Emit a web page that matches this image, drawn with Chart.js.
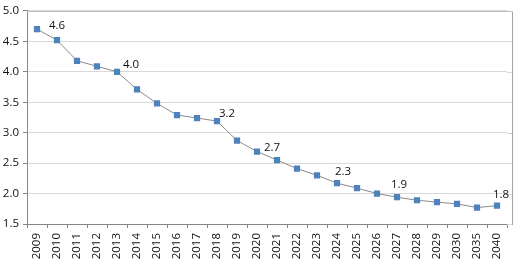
<!DOCTYPE html>
<html>
<head>
<meta charset="utf-8">
<script src="https://cdn.jsdelivr.net/npm/chart.js@4/dist/chart.umd.min.js"></script>
<style>
html,body{margin:0;padding:0;background:#fff;}
#wrap{width:516px;height:263px;}
</style>
</head>
<body>
<div id="wrap"><canvas id="c" width="516" height="263"></canvas></div>
<script>
const categories = ['2009','2010','2011','2012','2013','2014','2015','2016','2017','2018','2019','2020','2021','2022','2023','2024','2025','2026','2027','2028','2029','2030','2035','2040'];
const values = [4.70,4.52,4.18,4.09,4.00,3.71,3.48,3.29,3.24,3.19,2.87,2.69,2.55,2.41,2.30,2.17,2.09,2.00,1.94,1.89,1.86,1.83,1.77,1.80];
const pointLabels = [null,'4.6',null,null,'4.0',null,null,null,null,'3.2',null,'2.7',null,null,null,'2.3',null,null,'1.9',null,null,null,null,'1.8'];
const yMin = 1.5, yMax = 5.0, yStep = 0.5;

const FONT = '"Open Sans", "DejaVu Sans", sans-serif';

const labelOffsets = {1:[0,-14],4:[14,-7],9:[10,-7],11:[15,-4],15:[6,-11],18:[2,-12],23:[4,-11]};

const labelPlugin = {
  id: 'pointLabels',
  afterDatasetsDraw(chart) {
    const ctx = chart.ctx;
    const meta = chart.getDatasetMeta(0);
    ctx.save();
    ctx.font = '11.5px ' + FONT;
    ctx.fillStyle = '#111';
    ctx.textAlign = 'center';
    ctx.textBaseline = 'middle';
    pointLabels.forEach((t, i) => {
      if (!t) return;
      const el = meta.data[i];
      const off = labelOffsets[i] || [0, -12];
      ctx.fillText(t, el.x + off[0], el.y + off[1]);
    });
    ctx.restore();
  }
};

const framePlugin = {
  id: 'frame',
  beforeDatasetsDraw(chart) {
    const {ctx, chartArea} = chart;
    const ys = chart.scales.y;
    const ext = 5;
    ctx.save();
    ctx.lineWidth = 1;
    ctx.strokeStyle = '#d9d9d9';
    ys.ticks.forEach(t => {
      const y = Math.round(ys.getPixelForValue(t.value)) + 0.5;
      ctx.beginPath();
      ctx.moveTo(chartArea.right, y);
      ctx.lineTo(chartArea.right + ext, y);
      ctx.stroke();
    });
    const top = Math.round(ys.getPixelForValue(yMax)) + 0.5;
    ctx.strokeStyle = '#bdbdbd';
    ctx.beginPath();
    ctx.moveTo(chartArea.left, top);
    ctx.lineTo(chartArea.right + ext, top);
    ctx.stroke();
    ctx.strokeStyle = '#a6a6a6';
    const x = Math.round(chartArea.right + ext) + 0.5;
    ctx.beginPath();
    ctx.moveTo(x, top);
    ctx.lineTo(x, chartArea.bottom + 1);
    ctx.stroke();
    ctx.restore();
  }
};

new Chart(document.getElementById('c'), {
  type: 'line',
  data: {
    labels: categories,
    datasets: [{
      data: values,
      borderColor: '#8a8a8a',
      borderWidth: 1,
      backgroundColor: '#4f81bd',
      pointStyle: 'rect',
      pointRadius: 4.4,
      pointBorderWidth: 0,
      pointBackgroundColor: '#4f81bd',
      tension: 0,
      fill: false
    }]
  },
  options: {
    responsive: false,
    animation: false,
    devicePixelRatio: 1,
    layout: {padding: {top: 7, right: 9, bottom: 0, left: 0}},
    plugins: {legend: {display: false}, tooltip: {enabled: false}},
    scales: {
      x: {
        type: 'category',
        offset: true,
        grid: {offset: true, drawOnChartArea: false, tickLength: 4, color: '#868686'},
        border: {color: '#868686'},
        ticks: {minRotation: 90, maxRotation: 90, autoSkip: false, padding: 5, color: '#111', font: {family: FONT, size: 11.5}},
        afterFit: s => { s.height = 39; }
      },
      y: {
        min: yMin, max: yMax,
        grid: {color: '#d9d9d9', tickColor: '#868686', tickLength: 4},
        border: {color: '#868686'},
        ticks: {stepSize: yStep, padding: 4, color: '#111', font: {family: FONT, size: 11.5}, callback: v => Number(v).toFixed(1)},
        afterFit: s => { s.width = 27; }
      }
    }
  },
  plugins: [framePlugin, labelPlugin]
});
</script>
</body>
</html>
